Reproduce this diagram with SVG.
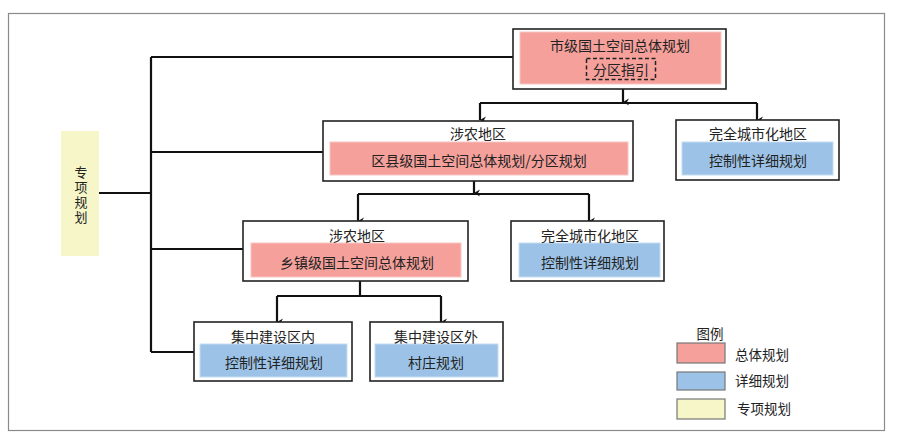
<svg xmlns="http://www.w3.org/2000/svg" width="902" height="439" viewBox="0 0 902 439">
<defs>
<marker id="arr" markerWidth="8" markerHeight="8" refX="4" refY="7" orient="auto" markerUnits="userSpaceOnUse" viewBox="0 0 8 8">
<path d="M0.5,1 L4,7 L7.5,1 L4,3 Z" fill="#111"/>
</marker>
<style>
text{font-family:"Noto Sans CJK SC","Liberation Sans",sans-serif;font-size:14px;fill:#222;text-anchor:middle;dominant-baseline:central}
.box{fill:#fff;stroke:#222;stroke-width:1.6}
.pink{fill:#f5a09b;stroke:#f8c6c2;stroke-width:1}
.blue{fill:#9cc3e7;stroke:#c4dcf1;stroke-width:1}
.yellow{fill:#f6f6c9}
.line{fill:none;stroke:#111;stroke-width:2.2}
.arrow{fill:none;stroke:#111;stroke-width:2.2;marker-end:url(#arr)}
.leg{stroke:#777;stroke-width:1.2}
.lt{text-anchor:start;font-size:13.5px}
.vt{font-size:13px;writing-mode:vertical-rl;letter-spacing:2px}
</style>
</defs>
<rect x="0" y="0" width="902" height="439" fill="#fff"/>
<rect x="8.5" y="13.5" width="876" height="417" fill="none" stroke="#8a8a8a" stroke-width="1.2"/>

<g id="connectors">
<path class="line" d="M151,57 V352"/>
<path class="line" d="M151,57 H513"/>
<path class="line" d="M151,152 H323"/>
<path class="line" d="M151,249 H243"/>
<path class="line" d="M151,352 H194"/>
<path class="line" d="M99,193 H151"/>
<path class="arrow" d="M623,89 V102"/>
<path class="line" d="M480,103 H757"/>
<path class="arrow" d="M480,103 V120"/>
<path class="arrow" d="M757,103 V120"/>
<path class="arrow" d="M474,181 V193"/>
<path class="line" d="M358,194 H589"/>
<path class="arrow" d="M358,194 V221"/>
<path class="arrow" d="M589,194 V221"/>
<path class="line" d="M360,281 V296 M277,296 H441"/>
<path class="arrow" d="M277,296 V322"/>
<path class="arrow" d="M441,296 V322"/>
</g>

<g id="special">
<rect class="yellow" x="61" y="131" width="38" height="125"/>
<text class="vt" x="81" y="196">专项规划</text>
</g>

<g id="city">
<rect class="box" x="513" y="29" width="213" height="60"/>
<rect class="pink" x="520" y="32" width="201" height="52"/>
<text x="620" y="45">市级国土空间总体规划</text>
<rect x="586.5" y="58.5" width="69" height="21" fill="none" stroke="#222" stroke-width="1.5" stroke-dasharray="4,2.5"/>
<text x="621" y="69">分区指引</text>
</g>

<g id="county-agri">
<rect class="box" x="323" y="121" width="310" height="60"/>
<rect class="pink" x="330" y="142" width="298" height="33"/>
<text x="478" y="133">涉农地区</text>
<text x="479" y="160">区县级国土空间总体规划/分区规划</text>
</g>

<g id="county-urban">
<rect class="box" x="676" y="120" width="163" height="60"/>
<rect class="blue" x="682" y="142" width="151" height="33"/>
<text x="758" y="133">完全城市化地区</text>
<text x="758" y="160">控制性详细规划</text>
</g>

<g id="town-agri">
<rect class="box" x="243" y="221" width="225" height="60"/>
<rect class="pink" x="251" y="243" width="210" height="34"/>
<text x="357" y="235">涉农地区</text>
<text x="357" y="262">乡镇级国土空间总体规划</text>
</g>

<g id="town-urban">
<rect class="box" x="511" y="221" width="153" height="60"/>
<rect class="blue" x="519" y="243" width="141" height="34"/>
<text x="590" y="235">完全城市化地区</text>
<text x="590" y="262">控制性详细规划</text>
</g>

<g id="inside">
<rect class="box" x="194" y="322" width="158" height="59"/>
<rect class="blue" x="200" y="344" width="147" height="33"/>
<text x="273" y="336">集中建设区内</text>
<text x="274" y="362">控制性详细规划</text>
</g>

<g id="outside">
<rect class="box" x="370" y="322" width="133" height="59"/>
<rect class="blue" x="375" y="344" width="123" height="33"/>
<text x="436" y="336">集中建设区外</text>
<text x="436" y="362">村庄规划</text>
</g>

<g id="legend">
<text x="710" y="333" style="font-size:13.5px">图例</text>
<rect class="leg" x="677" y="343" width="48" height="20" fill="#f5a09b"/>
<text class="lt" x="735" y="354">总体规划</text>
<rect class="leg" x="677" y="372" width="48" height="18" fill="#9cc3e7"/>
<text class="lt" x="735" y="380">详细规划</text>
<rect class="leg" x="677" y="399" width="48" height="20" fill="#f6f6c9"/>
<text class="lt" x="737" y="408">专项规划</text>
</g>
</svg>
